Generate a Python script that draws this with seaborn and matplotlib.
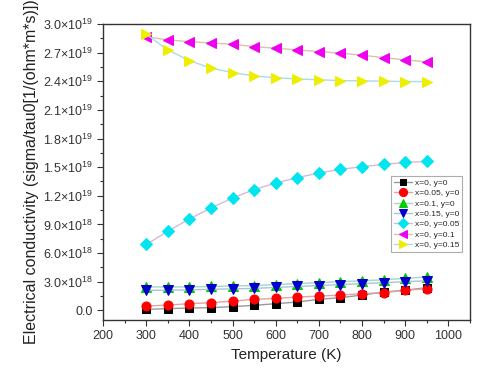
import matplotlib
matplotlib.use("Agg")
import matplotlib.pyplot as plt
import matplotlib.ticker as mticker
import seaborn as sns
import numpy as np

temperature = [300, 350, 400, 450, 500, 550, 600, 650, 700, 750, 800, 850, 900, 950]

s_x0_y0 = [0.10, 0.18, 0.24, 0.28, 0.39, 0.52, 0.70, 0.87, 1.15, 1.33, 1.60, 1.91, 2.12, 2.37]
s_x005_y0 = [0.45, 0.55, 0.70, 0.80, 0.97, 1.15, 1.25, 1.39, 1.49, 1.60, 1.75, 1.85, 2.09, 2.27]
s_x01_y0 = [2.45, 2.45, 2.45, 2.50, 2.55, 2.60, 2.70, 2.80, 2.90, 3.00, 3.10, 3.20, 3.35, 3.50]
s_x015_y0 = [2.10, 2.10, 2.15, 2.20, 2.25, 2.30, 2.40, 2.50, 2.60, 2.70, 2.80, 2.90, 3.00, 3.10]
s_x0_y005 = [6.90, 8.29, 9.58, 10.73, 11.78, 12.65, 13.35, 13.90, 14.39, 14.77, 15.05, 15.29, 15.50, 15.61]
s_x0_y01 = [28.67, 28.33, 28.15, 28.00, 27.88, 27.63, 27.46, 27.28, 27.11, 26.94, 26.73, 26.48, 26.24, 26.03]
s_x0_y015 = [28.92, 27.28, 26.16, 25.37, 24.91, 24.56, 24.36, 24.25, 24.15, 24.07, 24.04, 24.01, 23.97, 23.97]

labels = ["x=0, y=0", "x=0.05, y=0", "x=0.1, y=0", "x=0.15, y=0",
          "x=0, y=0.05", "x=0, y=0.1", "x=0, y=0.15"]
series = [s_x0_y0, s_x005_y0, s_x01_y0, s_x015_y0, s_x0_y005, s_x0_y01, s_x0_y015]
markers = ["s", "o", "^", "v", "D", "<", ">"]
marker_colors = ["#000000", "#ff0000", "#00cc00", "#0000cc", "#00e5ee", "#ee00ee", "#eeee00"]
line_colors = ["#999999", "#e8a0a0", "#9fd8c8", "#a8c4dc", "#d8b8d8", "#e0c0a8", "#a8dce8"]
msizes = [5.5, 6.5, 6.5, 6.5, 6, 7, 7]

sns.set_style("ticks")
plt.rcParams['font.family'] = ['Liberation Sans', 'DejaVu Sans']
plt.rcParams['mathtext.fontset'] = 'custom'
plt.rcParams['mathtext.rm'] = 'Liberation Sans'
plt.rcParams['mathtext.it'] = 'Liberation Sans'

fig = plt.figure(figsize=(4.8, 3.75), dpi=100)
ax = fig.add_axes([0.215, 0.147, 0.764, 0.789])

for vals, lab, mk, mc, lc, ms in zip(series, labels, markers, marker_colors, line_colors, msizes):
    y = np.array(vals) * 1e18
    sns.lineplot(x=temperature, y=y, ax=ax, color=lc, linewidth=1.0, marker=mk,
                 markersize=ms, markerfacecolor=mc, markeredgecolor=mc, label=lab)

ax.set_xlim(200, 1050)
ax.set_ylim(-1e18, 3e19)
ax.xaxis.set_major_locator(mticker.MultipleLocator(100))
ax.xaxis.set_minor_locator(mticker.MultipleLocator(50))
ax.yaxis.set_major_locator(mticker.MultipleLocator(3e18))
ax.yaxis.set_minor_locator(mticker.MultipleLocator(1.5e18))

def yfmt(v, pos):
    if abs(v) < 1:
        return "0.0"
    e = int(np.floor(np.log10(abs(v))))
    m = v / 10**e
    return r"%.1f$\times$10$^{%d}$" % (m, e)

ax.yaxis.set_major_formatter(mticker.FuncFormatter(yfmt))
ax.tick_params(axis='both', which='major', labelsize=9, direction='out', length=4, width=0.8, colors='#333333', labelcolor='#333333')
ax.tick_params(axis='both', which='minor', direction='out', length=2.5, width=0.8, colors='#333333')
for sp in ax.spines.values():
    sp.set_visible(True)
    sp.set_color('#333333')
    sp.set_linewidth(1.0)

ax.set_xlabel("Temperature (K)", fontsize=11, color='#222222')
ax.set_ylabel("Electrical conductivity (sigma/tau0[1/(ohm*m*s)])", fontsize=11.5, color='#222222', labelpad=3)

leg = ax.legend(loc='upper right', bbox_to_anchor=(0.99, 0.5), fontsize=6, frameon=True,
                fancybox=False, edgecolor='#999999', handlelength=2.2, handletextpad=0.3,
                labelspacing=0.3, borderpad=0.35, markerscale=0.9)
leg.get_frame().set_linewidth(0.8)

fig.savefig("out.png", dpi=100)
